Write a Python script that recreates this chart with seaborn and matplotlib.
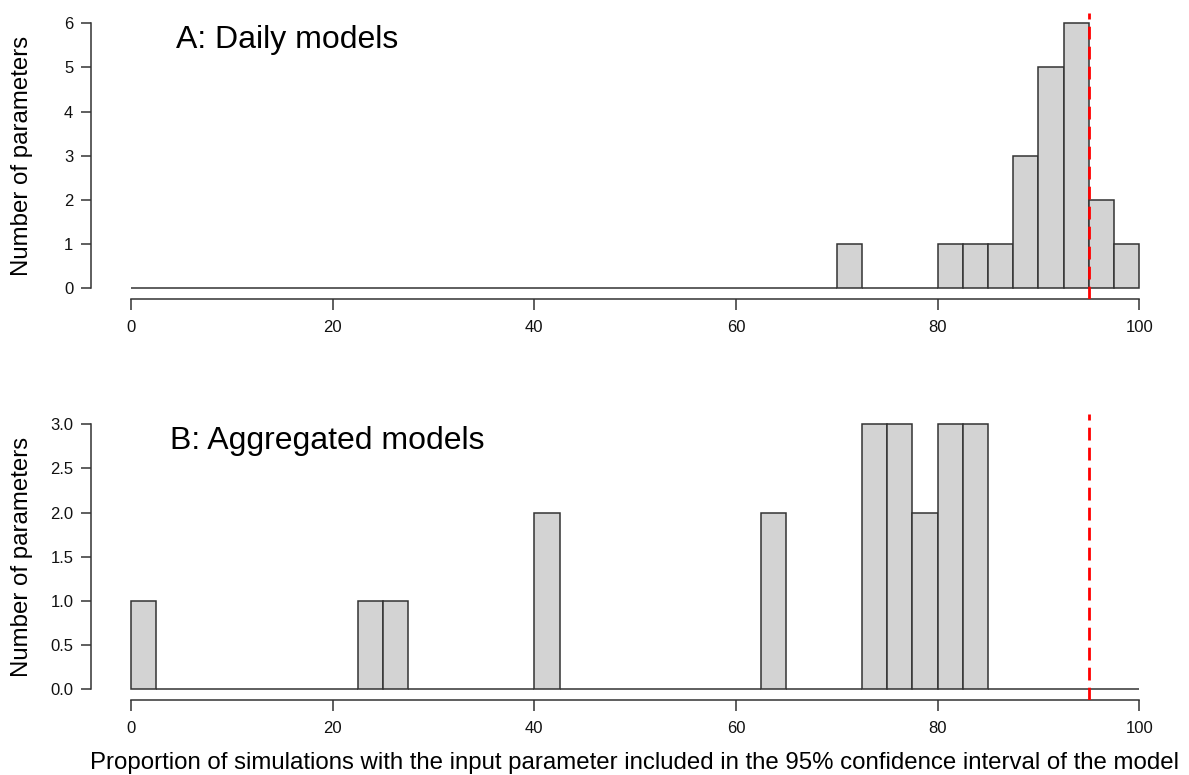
import numpy as np
import pandas as pd
import matplotlib
matplotlib.use("Agg")
import matplotlib.pyplot as plt
import seaborn as sns

# ---------------- data ----------------
bin_width = 2.5
bin_range = (0, 100)

daily_bin_left = [70, 80, 82.5, 85, 87.5, 90, 92.5, 95, 97.5]
daily_counts = [1, 1, 1, 1, 3, 5, 6, 2, 1]

agg_bin_left = [0, 22.5, 25, 40, 62.5, 72.5, 75, 77.5, 80, 82.5]
agg_counts = [1, 1, 1, 2, 2, 3, 3, 2, 3, 3]

nominal_level = 95

x_ticks = [0, 20, 40, 60, 80, 100]
daily_yticks = [0, 1, 2, 3, 4, 5, 6]
agg_yticks = [0.0, 0.5, 1.0, 1.5, 2.0, 2.5, 3.0]
agg_ytick_labels = ["0.0", "0.5", "1.0", "1.5", "2.0", "2.5", "3.0"]

title_a = "A: Daily models"
title_b = "B: Aggregated models"
y_label = "Number of parameters"
x_label = ("Proportion of simulations with the input parameter included "
           "in the 95% confidence interval of the model")

# ---------------- style ----------------
sns.set_theme(style="white")
plt.rcParams["font.family"] = ["Liberation Sans", "DejaVu Sans"]

W, H = 1189, 775
fig = plt.figure(figsize=(W / 100, H / 100), dpi=100)

edge_col = "#333333"
fill_col = "#D3D3D3"

def px_axes(left, right, top, bottom):
    return fig.add_axes([left / W, 1 - bottom / H, (right - left) / W, (bottom - top) / H])

ax_a = px_axes(90.7, 1179.6, 12.7, 298.6)
ax_b = px_axes(90.7, 1179.6, 413.7, 699.9)

panels = [
    (ax_a, daily_bin_left, daily_counts, daily_yticks, [str(v) for v in daily_yticks],
     (-0.24, 6.24), title_a, (15.5, 5.45)),
    (ax_b, agg_bin_left, agg_counts, agg_yticks, agg_ytick_labels,
     (-0.12, 3.12), title_b, (19.5, 2.72)),
]

for ax, lefts, counts, yt, ytl, ylim, title, tpos in panels:
    df = pd.DataFrame({"value": np.asarray(lefts, dtype=float) + bin_width / 2,
                       "count": np.asarray(counts, dtype=float)})
    sns.histplot(data=df, x="value", weights="count", binwidth=bin_width,
                 binrange=bin_range, ax=ax,
                 color=fill_col, edgecolor=edge_col, linewidth=1.1, alpha=1)
    for p in ax.patches:
        p.set_facecolor(fill_col)
        p.set_edgecolor(edge_col)
        p.set_alpha(1)
    ax.axvline(nominal_level, color="#FF0000", linewidth=2.0,
               linestyle=(0, (4.6, 2.6)), zorder=5)
    ax.set_xlim(-4, 104)
    ax.set_ylim(*ylim)
    ax.set_xticks(x_ticks)
    ax.set_xticklabels([str(v) for v in x_ticks])
    ax.set_yticks(yt)
    ax.set_yticklabels(ytl)
    ax.set_xlabel("")
    ax.set_ylabel(y_label, fontsize=17.3, color="black")
    ax.yaxis.set_label_coords((22.5 - 90.7) / (1179.6 - 90.7), 0.5)
    ax.yaxis.label.set_va("center")
    for s in ["top", "right"]:
        ax.spines[s].set_visible(False)
    for s in ["left", "bottom"]:
        ax.spines[s].set_color(edge_col)
        ax.spines[s].set_linewidth(1.1)
    ax.spines["bottom"].set_bounds(0, 100)
    ax.spines["left"].set_bounds(yt[0], yt[-1])
    ax.tick_params(axis="x", direction="out", length=8, width=1.1, color=edge_col,
                   labelsize=12, pad=7.5, bottom=True, labelcolor="#111111")
    ax.tick_params(axis="y", direction="out", length=7.5, width=1.1, color=edge_col,
                   labelsize=12, pad=5, left=True, labelcolor="#111111")
    ax.text(tpos[0], tpos[1], title, fontsize=23, ha="center", va="baseline",
            color="black")
    ax.grid(False)
    ax.set_facecolor("white")

fig.text(635 / W, 5.5 / H, x_label, fontsize=17.3, ha="center", va="baseline",
         color="black")

fig.savefig("out.png", dpi=100, facecolor="white")
